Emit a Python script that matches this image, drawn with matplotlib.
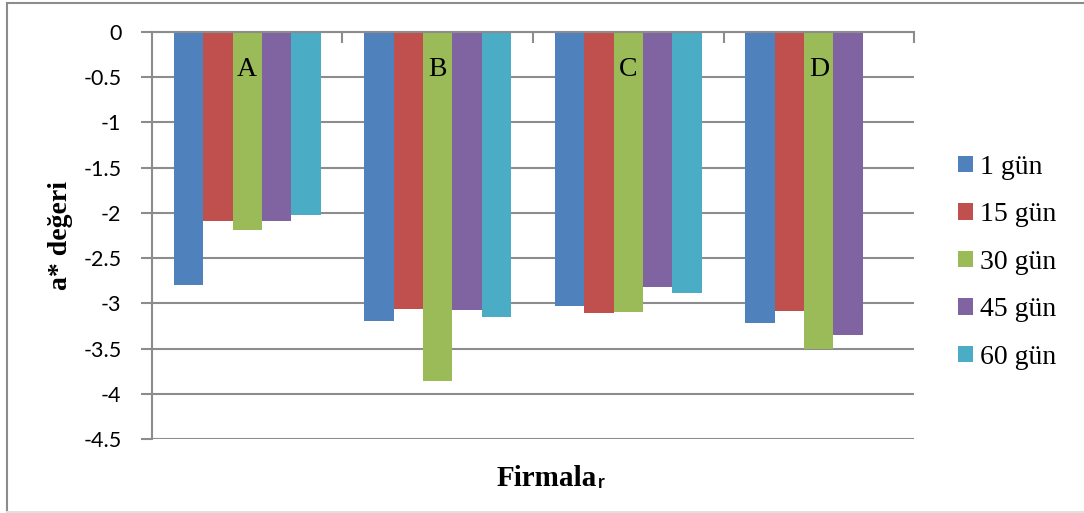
import matplotlib
matplotlib.use("Agg")
import numpy as np
import matplotlib.pyplot as plt
from matplotlib.lines import Line2D

# a* values per firm (A-D) for each storage day; firm D has no 60-day reading
firms = ["A", "B", "C", "D"]
days = ["1 gün", "15 gün", "30 gün", "45 gün", "60 gün"]
day_1 = [-2.80, -3.20, -3.03, -3.22]
day_15 = [-2.09, -3.06, -3.11, -3.09]
day_30 = [-2.19, -3.86, -3.10, -3.51]
day_45 = [-2.09, -3.07, -2.82, -3.35]
day_60 = [-2.02, -3.15, -2.88, np.nan]
series = [day_1, day_15, day_30, day_45, day_60]
colors = ["#4F81BD", "#C0504D", "#9BBB59", "#8064A2", "#4BACC6"]

grid_gray = "#8c8c8c"
serif = "Liberation Serif"
sans = "Lato"

fig = plt.figure(figsize=(10.84, 5.13), dpi=100)
ax = fig.add_axes([0.1402, 0.1442, 0.7030, 0.7934])

x = np.arange(len(firms))
bar_w = 0.154
for i, (vals, c) in enumerate(zip(series, colors)):
    ax.bar(x + (i - 2) * bar_w, vals, width=bar_w, color=c, label=days[i], zorder=3)

# firm names sit inside the top of each group
for xi, name in zip(x, firms):
    ax.text(xi, -0.42, name, ha="center", va="center", fontsize=20,
            family=serif, zorder=4)

ax.set_xlim(-0.5, 3.5)
ax.set_ylim(-4.5, 0)
ax.set_yticks(np.arange(0, -4.51, -0.5))
ax.set_yticklabels(["0", "-0.5", "-1", "-1.5", "-2", "-2.5", "-3", "-3.5", "-4", "-4.5"],
                   family=sans, fontsize=15.5)
ax.yaxis.grid(True, color=grid_gray, lw=1.5, zorder=0)

# category axis runs along the zero line at the top
ax.xaxis.set_ticks_position("top")
ax.set_xticks([0.5, 1.5, 2.5, 3.5])
ax.set_xticklabels([])
ax.tick_params(axis="x", direction="in", length=8, width=1.5, color=grid_gray)
ax.tick_params(axis="y", direction="out", length=8, width=1.5, color=grid_gray, pad=14)

for side in ["right", "bottom"]:
    ax.spines[side].set_visible(False)
for side in ["left", "top"]:
    ax.spines[side].set_color(grid_gray)
    ax.spines[side].set_linewidth(1.5)
    ax.spines[side].set_zorder(5)

ax.set_ylabel("a* değeri", family=serif, fontweight="bold", fontsize=20, labelpad=7)

# x label, last letter set in a smaller sans face
fig.text(0.551, 0.068, "Firmala", ha="right", va="center", family=serif,
         fontweight="bold", fontsize=21)
fig.text(0.5515, 0.060, "r", ha="left", va="center", family=sans,
         fontweight="bold", fontsize=13)

leg = ax.legend(loc="center left", bbox_to_anchor=(1.025, 0.434), frameon=False,
                prop={"family": serif, "size": 20}, handlelength=0.55,
                handleheight=0.55, handletextpad=0.25, labelspacing=0.81)

# chart area border
fig.add_artist(Line2D([0.0065, 0.0065], [0.0, 0.994], color=grid_gray, lw=1.5,
                      transform=fig.transFigure))
fig.add_artist(Line2D([0.0065, 1.0], [0.994, 0.994], color=grid_gray, lw=1.5,
                      transform=fig.transFigure))
fig.add_artist(Line2D([0.0065, 1.0], [0.001, 0.001], color="#e0e0e0", lw=1.5,
                      transform=fig.transFigure))

fig.savefig("out.png", dpi=100)
